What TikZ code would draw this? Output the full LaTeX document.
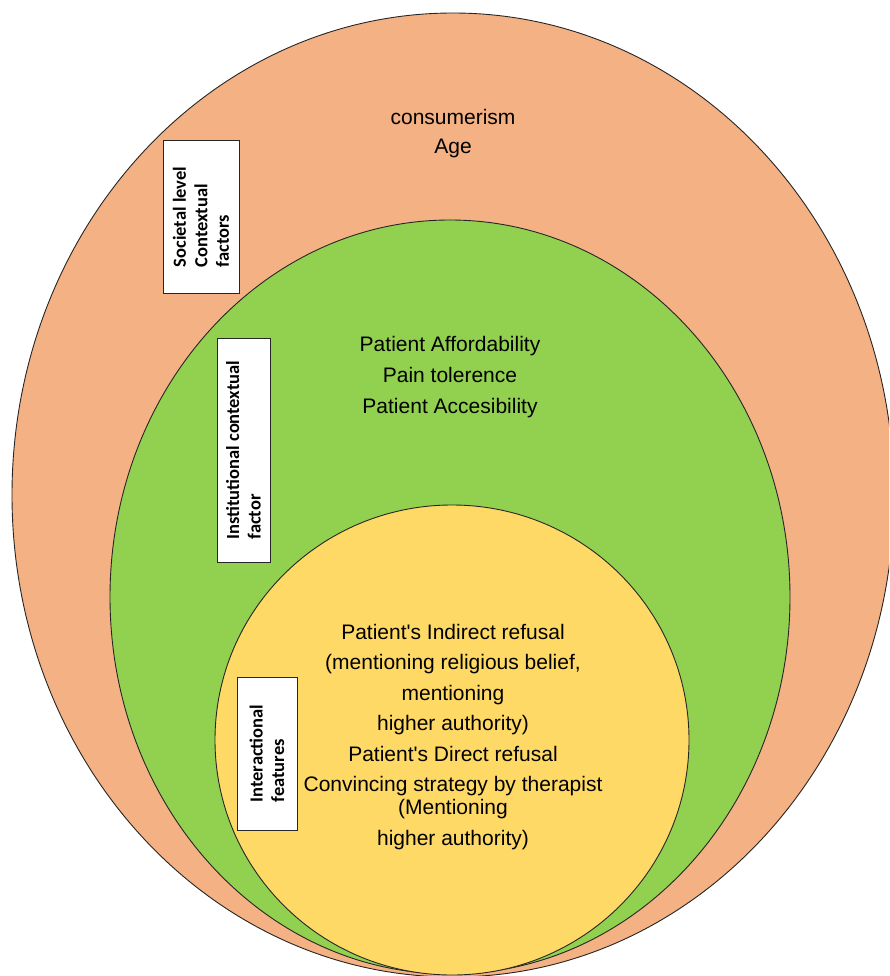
\documentclass[tikz,border=0pt]{standalone}
\usepackage{fontspec}
\setmainfont{Liberation Sans}
\newfontfamily\boxfont{Carlito}
\definecolor{societal}{HTML}{F4B183}
\definecolor{institutional}{HTML}{92D050}
\definecolor{interactional}{HTML}{FFD966}
\tikzset{
  layer/.style={draw=black!85, line width=0.9pt},
  layer text/.style={align=center, font=\fontsize{21}{30.4}\selectfont},
  level box/.style={draw=black!85, line width=1pt, fill=white, rotate=90, align=left,
    inner sep=0pt, font=\boxfont\bfseries\fontsize{18.5}{21.5}\selectfont}
}
\begin{document}
\begin{tikzpicture}[x=1pt,y=-1pt]
        \useasboundingbox (0,0) rectangle (889,976);
        \clip (0,0) rectangle (889,976);

        % Centres
        \coordinate (S) at (453,495);
        \coordinate (I) at (450,597);
        \coordinate (F) at (452,740);

        % Drawing the three levels
        \draw[layer, fill=societal] (S) ellipse [x radius=441pt, y radius=482pt];
        \draw[layer, fill=institutional] (I) ellipse [x radius=340pt, y radius=377pt];
        \draw[layer, fill=interactional] (F) ellipse [x radius=237pt, y radius=235pt];

        % Labels
        \node[layer text, font=\fontsize{21}{29}\selectfont] (societal text) at (453,134) {consumerism\\Age};
        \node[layer text, font=\fontsize{21}{31}\selectfont] (institutional text) at (450,377)
          {Patient Affordability\\Pain tolerence\\Patient Accesibility};
        \node[layer text] (interactional text) at (453,737)
          {Patient\textquotesingle s Indirect refusal\\(mentioning religious belief,\\mentioning\\higher authority)\\
           Patient\textquotesingle s Direct refusal\\Convincing strategy by therapist\\[-7pt](Mentioning\\higher authority)};

        % Level boxes
        \node[level box, minimum width=152pt, minimum height=76pt] (societal box) at (201,217)
          {Societal level\\Contextual\\factors};
        \node[level box, minimum width=224pt, minimum height=53pt] (institutional box) at (243.5,450)
          {Institutional contextual\\factor};
        \node[level box, minimum width=153pt, minimum height=60pt] (interactional box) at (267,753.5)
          {Interactional\\features};
    \end{tikzpicture}
\end{document}
